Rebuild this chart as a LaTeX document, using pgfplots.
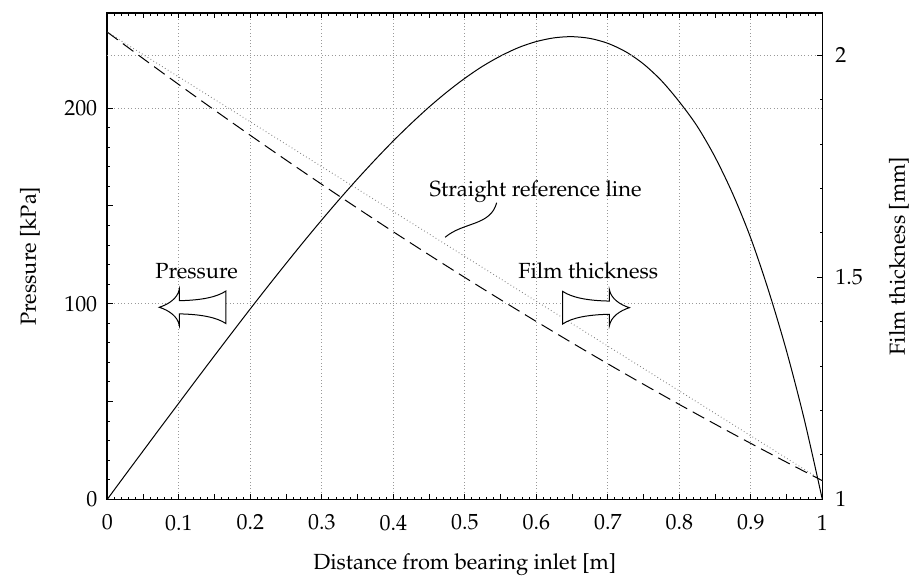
\documentclass[11pt,border=0pt]{standalone}
\usepackage[T1]{fontenc}
\usepackage{mathpazo}
\usepackage{pgfplots}
\usepackage{pgfplotstable}
\pgfplotsset{compat=1.18}

\pgfplotstableread{
x p
0     0
0.025 12.4
0.05  24.7
0.075 37.0
0.1   49.2
0.125 61.4
0.15  73.5
0.175 85.5
0.2   97.4
0.225 109.1
0.25  120.6
0.275 131.9
0.3   142.9
0.325 153.6
0.35  163.9
0.375 173.8
0.4   183.3
0.425 192.2
0.45  200.6
0.475 208.3
0.5   215.3
0.525 221.5
0.55  226.7
0.575 231.0
0.6   234.1
0.625 236.0
0.65  236.6
0.675 235.7
0.7   233.2
0.725 228.9
0.75  222.6
0.775 214.1
0.8   203.3
0.825 190.8
0.85  175.0
0.875 156.0
0.9   133.5
0.925 106.5
0.95  75.8
0.975 40.5
1     0
}\pressure

\pgfplotstableread{
x h
0     2.052
0.05  1.9925
0.1   1.9339
0.15  1.8763
0.2   1.8196
0.25  1.7639
0.3   1.7091
0.35  1.6553
0.4   1.6024
0.45  1.5505
0.5   1.4995
0.55  1.4495
0.6   1.4004
0.65  1.3523
0.7   1.3051
0.75  1.2589
0.8   1.2136
0.85  1.1693
0.9   1.1259
0.95  1.0835
1     1.042
}\film

\pgfplotstableread{
x h
0 2.052
1 1.042
}\straight

\begin{document}
\begin{tikzpicture}
\pgfplotsset{
  every axis/.append style={
    scale only axis, width=357.5pt, height=243.15pt,
    xmin=0, xmax=1,
    axis line style={line width=0.8pt, -},
    major tick length=2.65pt, minor tick length=1.35pt,
    every tick/.style={black, line width=0.5pt},
    grid style={gray!80, dash pattern=on 0.4pt off 1.3pt, line width=0.4pt},
  },
}
\begin{axis}[
  ymin=0, ymax=248.7,
  xtick={0,0.1,0.2,0.3,0.4,0.5,0.6,0.7,0.8,0.9,1},
  minor x tick num=9,
  extra x ticks={0.05,0.15,0.25,0.35,0.45,0.55,0.65,0.75,0.85,0.95},
  extra x tick labels={},
  extra x tick style={grid=none},
  ytick={0,100,200},
  minor y tick num=9,
  extra y ticks={50,150},
  extra y tick labels={},
  extra y tick style={grid=none},
  ytick pos=left,
  xmajorgrids, ymajorgrids,
  xticklabel style={yshift=-4pt},
  yticklabel style={xshift=-1.2pt},
  xlabel={Distance from bearing inlet [m]},
  ylabel={Pressure [kPa]},
  xlabel style={at={(axis description cs:0.5,-0.1351)}, anchor=center},
  ylabel style={at={(axis description cs:-0.1081,0.5)}, anchor=center},
]
\addplot[black, line width=0.5pt, smooth] table[x=x, y=p] {\pressure};
\coordinate (SW) at (rel axis cs:0,0);
\coordinate (NE) at (rel axis cs:1,1);
\coordinate (pa) at (axis cs:0.1194,98.2);
\coordinate (fa) at (axis cs:0.6835,98.0);
\node[anchor=base, inner sep=0pt] at (axis cs:0.125,113) {Pressure};
\node[anchor=base, inner sep=0pt] at (axis cs:0.6727,113) {Film thickness};
\node[anchor=base west, inner sep=0pt] at (axis cs:0.4503,154.8) {Straight reference line};
\draw[line width=0.5pt] (axis cs:0.5446,151.7) to[out=-105,in=40] (axis cs:0.4724,134.0);
\end{axis}

\begin{axis}[
  ymin=1, ymax=2.095,
  axis y line*=right,
  axis x line=none,
  ytick={1,1.5,2},
  minor y tick num=4,
  extra y ticks={2},
  extra y tick labels={},
  extra y tick style={ymajorgrids=true},
  yticklabel style={xshift=2.7pt},
  ylabel={Film thickness [mm]},
  ylabel style={at={(axis description cs:1.1073,0.5)}, anchor=center, rotate=0},
]
\addplot[gray, line width=0.45pt, dash pattern=on 0.4pt off 1.3pt] table[x=x, y=h] {\straight};
\addplot[black, line width=0.5pt, dash pattern=on 6.5pt off 3.2pt, smooth] table[x=x, y=h] {\film};
\end{axis}

\begin{scope}[shift={(pa)}, x=0.5pt, y=0.5pt]
\filldraw[fill=white, draw=black, line width=0.5pt]
  (-33.4,0) .. controls (-24,3) and (-15,9) .. (-13.4,18) -- (-13.4,6.6)
  .. controls (8,7) and (24,10) .. (33.3,16.3) -- (33.3,-16.3)
  .. controls (24,-10) and (8,-7) .. (-13.4,-6.6) -- (-13.4,-18)
  .. controls (-15,-9) and (-24,-3) .. cycle;
\end{scope}
\begin{scope}[shift={(fa)}, x=-0.5pt, y=0.5pt]
\filldraw[fill=white, draw=black, line width=0.5pt]
  (-33.4,0) .. controls (-24,3) and (-15,9) .. (-13.4,18) -- (-13.4,6.6)
  .. controls (8,7) and (24,10) .. (33.3,16.3) -- (33.3,-16.3)
  .. controls (24,-10) and (8,-7) .. (-13.4,-6.6) -- (-13.4,-18)
  .. controls (-15,-9) and (-24,-3) .. cycle;
\end{scope}

\pgfresetboundingbox
\path ([xshift=-53.65pt,yshift=-39.85pt]SW) rectangle ([xshift=45.35pt,yshift=6.5pt]NE);
\end{tikzpicture}
\end{document}
